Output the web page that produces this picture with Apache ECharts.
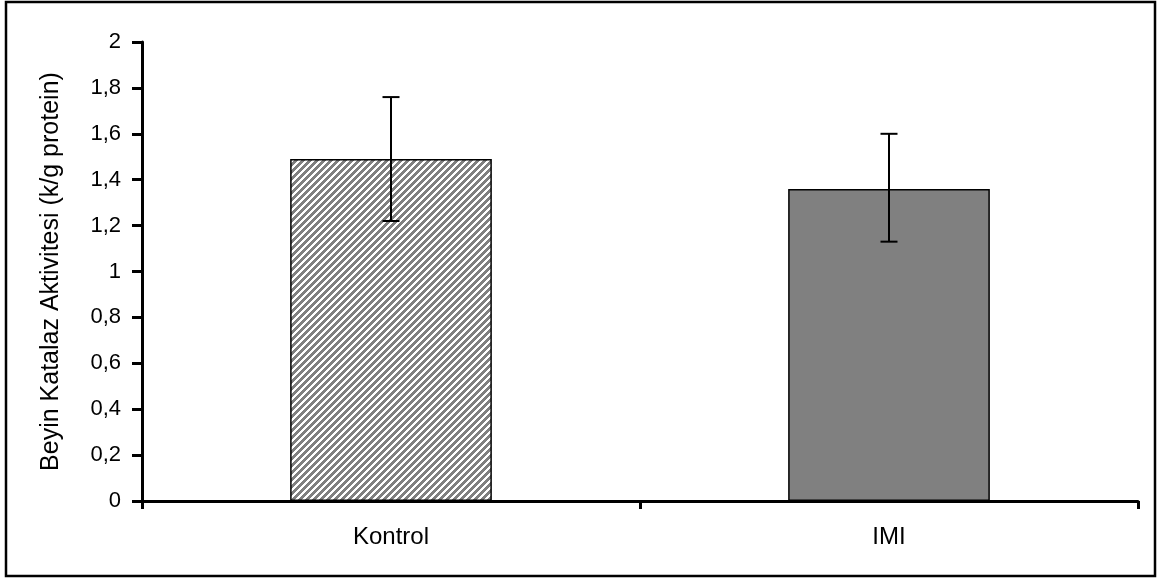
<!DOCTYPE html>
<html>
<head>
<meta charset="utf-8">
<script src="https://cdn.jsdelivr.net/npm/echarts@6/dist/echarts.min.js"></script>
<style>
  html, body { margin: 0; padding: 0; background: #fff; }
  #chart { width: 1157px; height: 578px; }
</style>
</head>
<body>
<div id="chart"></div>
<script>
// Data
const categories = ['Kontrol', 'IMI'];
const means = [1.49, 1.36];
const errLow = [1.22, 1.13];
const errHigh = [1.76, 1.60];
const yTickLabels = ['0', '0,2', '0,4', '0,6', '0,8', '1', '1,2', '1,4', '1,6', '1,8', '2'];

// Hatch pattern
function makeHatch() {
  const c = document.createElement('canvas');
  const n = 7;
  c.width = n; c.height = n;
  const ctx = c.getContext('2d');
  ctx.fillStyle = '#ffffff';
  ctx.fillRect(0, 0, n, n);
  ctx.fillStyle = '#808080';
  for (let y = 0; y < n; y++) {
    for (let k = 0; k < 4; k++) {
      const x = ((n - 1 - y) + k) % n;
      ctx.fillRect(x, y, 1, 1);
    }
  }
  return c;
}
const hatch = makeHatch();

const chart = echarts.init(document.getElementById('chart'), null, { renderer: 'canvas' });
const font = '"Liberation Sans", Arial, sans-serif';

chart.setOption({
  animation: false,
  backgroundColor: '#fff',
  graphic: [{
    type: 'rect',
    shape: { x: 6, y: 2, width: 1149, height: 574 },
    style: { fill: 'none', stroke: '#000', lineWidth: 2.5 },
    z: 100
  }],
  grid: { left: 142, right: 19, top: 42, bottom: 77 },
  xAxis: {
    type: 'category',
    data: categories,
    boundaryGap: true,
    axisLine: { show: true, lineStyle: { color: '#000', width: 3 } },
    axisTick: { show: true, inside: false, length: 8, alignWithLabel: false, lineStyle: { color: '#000', width: 3 } },
    axisLabel: { color: '#000', fontSize: 24, fontFamily: font, margin: 24 },
    splitLine: { show: false }
  },
  yAxis: {
    type: 'value',
    min: 0, max: 2, interval: 0.2,
    name: 'Beyin Katalaz Aktivitesi (k/g protein)',
    nameLocation: 'middle',
    nameGap: 78,
    nameRotate: 90,
    nameTextStyle: { color: '#000', fontSize: 25, fontFamily: font },
    axisLine: { show: true, lineStyle: { color: '#000', width: 3 } },
    axisTick: { show: true, inside: false, length: 10, lineStyle: { color: '#000', width: 3 } },
    axisLabel: {
      color: '#000', fontSize: 22, fontFamily: font, margin: 21,
      formatter: function (v) { return yTickLabels[Math.round(v / 0.2)]; }
    },
    splitLine: { show: false }
  },
  series: [
    {
      type: 'bar',
      barWidth: '40.5%',
      data: [
        { value: means[0], itemStyle: { color: { image: hatch, repeat: 'repeat' } } },
        { value: means[1], itemStyle: { color: '#808080' } }
      ],
      itemStyle: { borderColor: '#000', borderWidth: 1.5 },
      z: 2
    },
    {
      type: 'custom',
      data: categories.map((c, i) => [i, errLow[i], errHigh[i]]),
      renderItem: function (params, api) {
        const lo = api.coord([api.value(0), api.value(1)]);
        const hi = api.coord([api.value(0), api.value(2)]);
        const half = 8.5;
        const style = { stroke: '#000', lineWidth: 2 };
        return {
          type: 'group',
          children: [
            { type: 'line', shape: { x1: hi[0], y1: hi[1], x2: lo[0], y2: lo[1] }, style: style },
            { type: 'line', shape: { x1: hi[0] - half, y1: hi[1], x2: hi[0] + half, y2: hi[1] }, style: style },
            { type: 'line', shape: { x1: lo[0] - half, y1: lo[1], x2: lo[0] + half, y2: lo[1] }, style: style }
          ]
        };
      },
      z: 3
    }
  ]
});
</script>
</body>
</html>
